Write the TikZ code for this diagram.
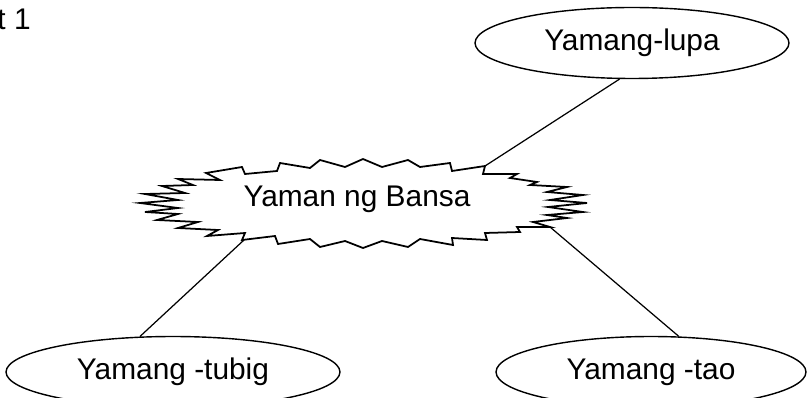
\documentclass[tikz,border=0pt]{standalone}
\usepackage{fontspec}
\setmainfont{Liberation Sans}
\usetikzlibrary{shapes.geometric}
\tikzset{every node/.style={font=\fontsize{17}{20}\selectfont}}
\tikzset{yamang/.style={draw, ellipse, line width=0.8pt, inner sep=0pt, minimum height=1.42cm}}

\begin{document}
\begin{tikzpicture}[x=0.02cm, y=-0.02cm]
  % Bounding box fixed to the page size.
  \path[use as bounding box] (0,0) rectangle (807,398);

  % Burst outline.
  \draw[line width=1pt] (140,203) -- (178,200) -- (145,194) -- (185,193)
    -- (162,186) -- (193,185) -- (178,179) -- (220,180) -- (206,173)
    -- (242,167) -- (245,174) -- (277,171) -- (280,163) -- (310,168)
    -- (320,160) -- (345,167) -- (363,159) -- (382,167) -- (408,160)
    -- (420,167) -- (450,163) -- (452,171) -- (485,166) -- (483,174)
    -- (517,174) -- (510,178) -- (537,182) -- (530,185) -- (567,187)
    -- (547,192) -- (583,195) -- (550,200) -- (587,203) -- (548,207)
    -- (583,212) -- (547,215) -- (567,218) -- (533,222) -- (550,227)
    -- (517,227) -- (520,232) -- (485,233) -- (487,240) -- (452,238)
    -- (453,245) -- (420,239) -- (408,247) -- (382,241) -- (363,248)
    -- (345,241) -- (320,247) -- (310,239) -- (278,244) -- (275,236)
    -- (242,240) -- (245,233) -- (207,236) -- (218,230) -- (178,228)
    -- (198,222) -- (157,220) -- (178,214) -- (145,212) -- (178,208)
    -- cycle;

  % Attach points on the burst.
  \coordinate (bansa-ne) at (485,166);
  \coordinate (bansa-sw) at (244,240);
  \coordinate (bansa-se) at (550,227);

  % Nodes.
  \node (bansa) at (357,199) {Yaman ng Bansa};
  \node[yamang, minimum width=6.28cm] (lupa) at (632,43) {Yamang-lupa};
  \node[yamang, minimum width=6.68cm] (tubig) at (173,372) {Yamang -tubig};
  \node[yamang, minimum width=6.2cm] (tao) at (651,372) {Yamang -tao};
  \node[anchor=base east, inner sep=0pt] (pamagat) at (31,30) {at 1};

  % Connectors.
  \draw[line width=0.7pt] (bansa-ne) -- (lupa.-109);
  \draw[line width=0.7pt] (bansa-sw) -- (tubig.133);
  \draw[line width=0.7pt] (bansa-se) -- (tao.52);
\end{tikzpicture}
\end{document}
